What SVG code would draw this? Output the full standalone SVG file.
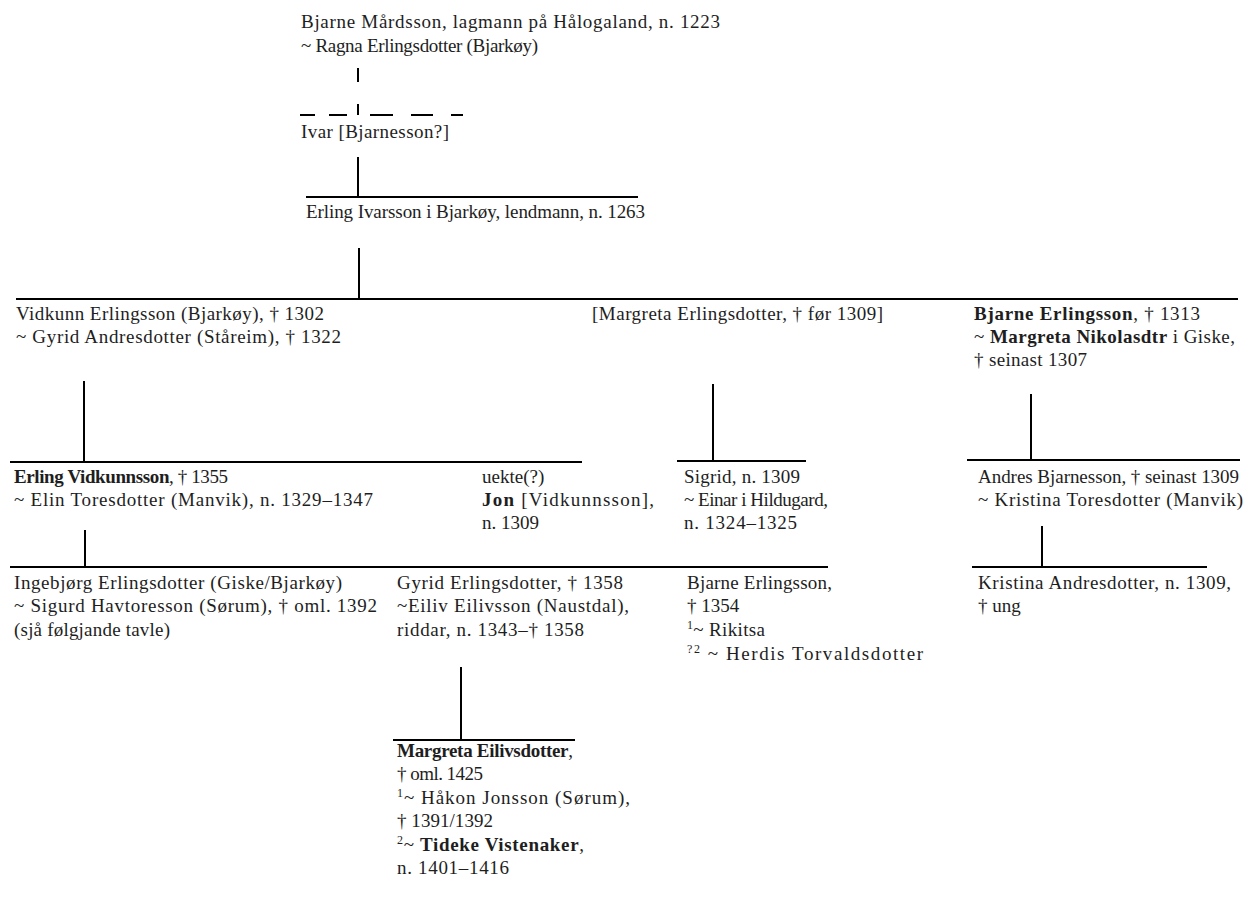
<svg xmlns="http://www.w3.org/2000/svg" width="1257" height="907" viewBox="0 0 1257 907">
<style>
text{font-family:"Liberation Serif","Times New Roman",serif;font-size:19px;fill:#1e1e1e}
.b{font-weight:bold}
.sup{font-size:12px}
.ln{stroke:#000;stroke-width:2;fill:none}
</style>
<rect width="1257" height="907" fill="#fff"/>
<g id="connectors" class="ln">
<path d="M358 68V82M358 104V115"/>
<path d="M300 115H315M329 115H347M370 115H393M411 115H433M451 115H463"/>
<path d="M358 157V197M306 197H638"/>
<path d="M359 248V299M16 299H1238"/>
<path d="M84 381V462M10 462H582"/>
<path d="M713 384V461M677 461H806"/>
<path d="M1031 394V460M967 460H1240"/>
<path d="M85 530V567M10 567H828"/>
<path d="M1042 526V567M972 567H1207"/>
<path d="M461 667V740M393 740H575"/>
</g>
<g id="n-bjarne-mardsson">
<text x="301" y="28" textLength="419">Bjarne Mårdsson, lagmann på Hålogaland, n. 1223</text>
<text x="301" y="52" textLength="237">~ Ragna Erlingsdotter (Bjarkøy)</text>
</g>
<g id="n-ivar">
<text x="301" y="138" textLength="148">Ivar [Bjarnesson?]</text>
</g>
<g id="n-erling-ivarsson">
<text x="306" y="218" textLength="339">Erling Ivarsson i Bjarkøy, lendmann, n. 1263</text>
</g>
<g id="n-vidkunn">
<text x="16" y="320" textLength="308">Vidkunn Erlingsson (Bjarkøy), † 1302</text>
<text x="16" y="343" textLength="325">~ Gyrid Andresdotter (Ståreim), † 1322</text>
</g>
<g id="n-margreta-erlingsdotter">
<text x="592" y="320" textLength="291">[Margreta Erlingsdotter, † før 1309]</text>
</g>
<g id="n-bjarne-erlingsson">
<text x="974" y="320" textLength="226"><tspan class="b">Bjarne Erlingsson</tspan>, † 1313</text>
<text x="974" y="343" textLength="261">~ <tspan class="b">Margreta Nikolasdtr</tspan> i Giske,</text>
<text x="974" y="366" textLength="113">† seinast 1307</text>
</g>
<g id="n-erling-vidkunnsson">
<text x="14" y="483" textLength="214"><tspan class="b">Erling Vidkunnsson</tspan>, † 1355</text>
<text x="14" y="506" textLength="359">~ Elin Toresdotter (Manvik), n. 1329–1347</text>
</g>
<g id="n-jon">
<text x="482" y="483">uekte(?)</text>
<text x="482" y="506" textLength="172"><tspan class="b">Jon</tspan> [Vidkunnsson],</text>
<text x="482" y="529">n. 1309</text>
</g>
<g id="n-sigrid">
<text x="684" y="483" textLength="116">Sigrid, n. 1309</text>
<text x="684" y="506" textLength="144">~ Einar i Hildugard,</text>
<text x="684" y="529" textLength="113">n. 1324–1325</text>
</g>
<g id="n-andres">
<text x="978" y="483" textLength="261">Andres Bjarnesson, † seinast 1309</text>
<text x="978" y="506" textLength="265">~ Kristina Toresdotter (Manvik)</text>
</g>
<g id="n-ingebjorg">
<text x="14" y="589" textLength="328">Ingebjørg Erlingsdotter (Giske/Bjarkøy)</text>
<text x="14" y="612" textLength="363">~ Sigurd Havtoresson (Sørum), † oml. 1392</text>
<text x="14" y="636" textLength="156">(sjå følgjande tavle)</text>
</g>
<g id="n-gyrid">
<text x="397" y="589" textLength="226">Gyrid Erlingsdotter, † 1358</text>
<text x="397" y="612" textLength="232">~Eiliv Eilivsson (Naustdal),</text>
<text x="397" y="636" textLength="187">riddar, n. 1343–† 1358</text>
</g>
<g id="n-bjarne-erlingsson-2">
<text x="687" y="589" textLength="145">Bjarne Erlingsson,</text>
<text x="687" y="612">† 1354</text>
<text x="687" y="636" textLength="78"><tspan class="sup" dy="-7">1</tspan><tspan dy="7">~ Rikitsa</tspan></text>
<text x="687" y="660" textLength="236"><tspan class="sup" dy="-7">?2</tspan><tspan dy="7"> ~ Herdis Torvaldsdotter</tspan></text>
</g>
<g id="n-kristina">
<text x="978" y="589" textLength="253">Kristina Andresdotter, n. 1309,</text>
<text x="978" y="612">† ung</text>
</g>
<g id="n-margreta-eilivsdotter">
<text x="397" y="757" textLength="176"><tspan class="b">Margreta Eilivsdotter</tspan>,</text>
<text x="397" y="780" textLength="86">† oml. 1425</text>
<text x="397" y="804" textLength="233"><tspan class="sup" dy="-7">1</tspan><tspan dy="7">~ Håkon Jonsson (Sørum),</tspan></text>
<text x="397" y="827" textLength="96">† 1391/1392</text>
<text x="397" y="851" textLength="187"><tspan class="sup" dy="-7">2</tspan><tspan dy="7">~ </tspan><tspan class="b">Tideke Vistenaker</tspan>,</text>
<text x="397" y="874" textLength="112">n. 1401–1416</text>
</g>
</svg>
